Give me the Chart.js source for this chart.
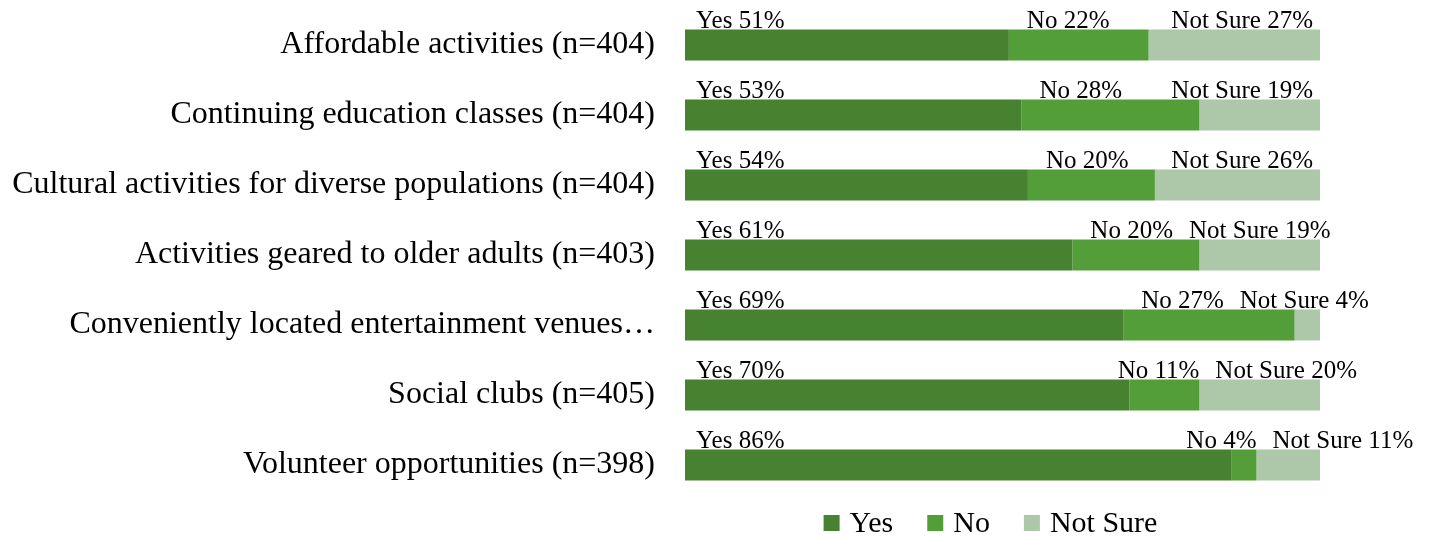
<!DOCTYPE html>
<html>
<head>
<meta charset="utf-8">
<script src="https://cdn.jsdelivr.net/npm/chart.js@4"></script>
<style>
  html, body { margin: 0; padding: 0; background: #fff; }
  #wrap { width: 1429px; height: 536px; }
</style>
</head>
<body>
<div id="wrap"><canvas id="myChart"></canvas></div>
<script>
// DATA
const categories = [
  "Affordable activities (n=404)",
  "Continuing education classes (n=404)",
  "Cultural activities for diverse populations (n=404)",
  "Activities geared to older adults (n=403)",
  "Conveniently located entertainment venues…",
  "Social clubs (n=405)",
  "Volunteer opportunities (n=398)",
];
const yesValues = [51, 53, 54, 61, 69, 70, 86];
const noValues = [22, 28, 20, 20, 27, 11, 4];
const notSureValues = [27, 19, 26, 19, 4, 20, 11];
const seriesNames = ["Yes", "No", "Not Sure"];
const seriesColors = ["#468230", "#549e3a", "#acc8a8"];

const FONT = "'Liberation Serif', 'Times New Roman', serif";

// LABELS ABOVE EACH BAR
const barLabels = {
  id: "barLabels",
  afterDatasetsDraw(chart) {
    const { ctx, chartArea } = chart;
    ctx.save();
    ctx.font = `25px ${FONT}`;
    ctx.fillStyle = "#000";
    ctx.textAlign = "left";
    ctx.textBaseline = "alphabetic";
    chart.data.labels.forEach((_, i) => {
      const [yes, no, ns] = chart.data.datasets.map((ds, d) => chart.getDatasetMeta(d).data[i]);
      const texts = chart.data.datasets.map((ds) => `${ds.label} ${ds.data[i]}%`);
      const w = texts.map((t) => ctx.measureText(t).width);
      const y = yes.y - yes.height / 2 - 1;

      const yesLeft = yes.base + 11;
      ctx.fillText(texts[0], yesLeft, y);

      let noLeft = no.base + 18;
      if (noLeft + w[1] > no.x) noLeft = no.x - w[1];
      noLeft = Math.max(noLeft, yesLeft + w[0] + 16);
      ctx.fillText(texts[1], noLeft, y);

      let nsLeft = Math.min(ns.x, chartArea.right) - 7 - w[2];
      nsLeft = Math.max(nsLeft, noLeft + w[1] + 16);
      ctx.fillText(texts[2], nsLeft, y);
    });
    ctx.restore();
  },
};

// LEGEND UNDER THE PLOT
const bottomLegend = {
  id: "bottomLegend",
  afterDraw(chart) {
    const { ctx, chartArea } = chart;
    ctx.save();
    ctx.font = `30px ${FONT}`;
    const box = 16, boxGap = 10, itemGap = 34;
    const items = chart.data.datasets.map((ds) => ({
      text: ds.label,
      color: ds.backgroundColor,
      w: ctx.measureText(ds.label).width,
    }));
    const total =
      items.reduce((s, it) => s + box + boxGap + it.w, 0) + itemGap * (items.length - 1);
    let x = (chartArea.left + chartArea.right) / 2 - 12 - total / 2;
    const baseline = chart.height - 4;
    items.forEach((it) => {
      ctx.fillStyle = it.color;
      ctx.fillRect(x, baseline - 17, box, box);
      x += box + boxGap;
      ctx.fillStyle = "#000";
      ctx.fillText(it.text, x, baseline);
      x += it.w + itemGap;
    });
    ctx.restore();
  },
};

let ctx = document.getElementById("myChart").getContext("2d");
const seriesValues = [yesValues, noValues, notSureValues];

var myChart = new Chart(ctx, {
  type: "bar",
  data: {
    labels: categories,
    datasets: seriesNames.map((name, i) => ({
      label: name,
      data: seriesValues[i],
      backgroundColor: seriesColors[i],
      borderWidth: 0,
    })),
  },
  options: {
    indexAxis: "y",
    responsive: true,
    maintainAspectRatio: false,
    animation: false,
    layout: { padding: { top: 10, right: 109, bottom: 36, left: 0 } },
    datasets: { bar: { barPercentage: 0.443, categoryPercentage: 1 } },
    scales: {
      x: { stacked: true, min: 0, max: 100, display: false },
      y: {
        stacked: true,
        grid: { display: false, drawTicks: false },
        border: { display: false },
        ticks: { font: { family: FONT, size: 32 }, color: "#000", padding: 30 },
        afterFit(scale) {
          scale.width = 685;
          scale.paddingTop = 0;
          scale.paddingBottom = 0;
        },
      },
    },
    plugins: { legend: { display: false }, tooltip: { enabled: false } },
  },
  plugins: [barLabels, bottomLegend],
});
</script>
</body>
</html>
